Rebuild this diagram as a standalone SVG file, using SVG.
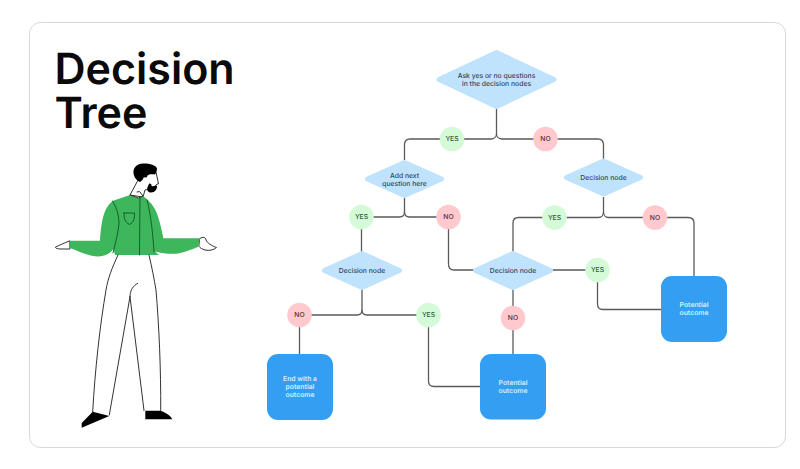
<svg xmlns="http://www.w3.org/2000/svg" width="800" height="469" viewBox="0 0 800 469">
<style>
text{text-rendering:geometricPrecision}
.title{font:600 43px "Inter","Liberation Sans",sans-serif;fill:#0a0a0a}
.t{font:500 6.8px "Inter","Liberation Sans",sans-serif;fill:#34445a;text-anchor:middle}
.w{font:600 6.8px "Inter","Liberation Sans",sans-serif;fill:#d8eefc;text-anchor:middle}
.c{font:500 6.8px "Inter","Liberation Sans",sans-serif;text-anchor:middle}
.dia{fill:#bfe3fd;stroke:#bfe3fd;stroke-width:5;stroke-linejoin:round}
.box{fill:#339ef2}
.yes{fill:#d4fad8}.no{fill:#ffc9ce}
.yt{fill:#2c5a3a}.nt{fill:#5a2f35}
.link{fill:none;stroke:#5a5a5a;stroke-width:1.3}
.ol{fill:none;stroke:#333;stroke-width:1;stroke-linecap:round;stroke-linejoin:round}
.seam{fill:none;stroke:#14542a;stroke-width:.9;stroke-linecap:round}
</style>
<rect width="800" height="469" fill="#fff"/>
<rect x="29.500" y="22.500" width="756" height="425" rx="11" fill="#fff" stroke="#d5d9dd" stroke-width="1"/>
<text class="title"><tspan x="54.500" y="84">Decision</tspan><tspan x="54.500" y="128">Tree</tspan></text>

<g id="person">
<!-- hands -->
<path class="ol" style="fill:#fff" d="M69.500 241C64 243 60 245 55.500 247C55 248.500 58 249 62 249L69.500 249ZM200 238.500C203 236.500 205.500 237 206 240C207 243 212 246 216.500 247.500C214 250 209 251 205 250C202 249 200 248 199 246.500Z"/>
<!-- head and neck -->
<path class="ol" style="fill:#fff" d="M137 182L130 195L143 197L145 190C150 189 155 187 157 184L158.500 184L156 172L143 168Z"/>
<path fill="#000" d="M133.500 171C134 166 139 163 144 163.500C150 163.500 156 165 157 168.500C157 171 156 173 155 174.500C152 174 149 174 147.500 175.500C147 178 145 178 144 177C143 179 142 181 140 182C136 180 133 176 133.500 171Z"/>
<path fill="#000" d="M148 186C146 190 148 192.500 151 192.500C155 192.500 157.500 189 157 185.500C155 186 153 186.500 151.500 186C152 184 150 183 149 184Z"/>
<!-- shirt -->
<path fill="#3db65c" d="M130 195L113 200.700C107 205 104 212 102 222C101 228 100 235 100 240.700L70 240.700L70 248C78 251 88 256 98 256.500C104 256.500 110 254 113.500 249L115 255L159 255L155 251.500C165 254 176 255 184 252C190 250 196 248 198 246.700L200 238.300L163.300 238.300C162 231 160 223 158 216.500C155 207 150 201 143 196L138 198Z"/>
<path class="ol" d="M130 195L138.500 198L143 196L139.500 191.500L137 192"/>
<path class="seam" d="M112.500 201C117 208 119 216 119 224C118 233 115 245 113 253M140 197L139.500 255M147 200C151 215 153 235 154 252M124 213L134.500 213C134.500 219 134 222 129.500 224.500C125 222 124 219 124 213Z"/>
<!-- trousers -->
<path class="ol" d="M118 255C112 268 108 278 106 290C100 325 95 370 92.700 411.700M130 296.700L109.300 415M130 296.700L144 410.500M149 255C152 268 154 278 156 290C159 325 161 370 160.700 410.500M130 296.700C130 290 133 286 137.700 283.300"/>
<!-- shoes -->
<path fill="#000" d="M92.700 411.700L109.300 416L81.700 427.700L81.700 423Z"/>
<path fill="#000" d="M145.300 410.700L160 410.700C165 412 170 415 172.300 419.300L145.300 419.300Z"/>
</g>

<g id="connectors" class="link">
<path d="M496.500 109V134C496.500 137 494 139 491 139H410C406.500 139 404.500 141 404.500 145V160"/>
<path d="M496.500 134C496.500 137 499 139 502 139H598C601.500 139 603.500 141 603.500 145V159"/>
<path d="M404.500 198V212C404.500 215 402.500 217 399.500 217H366C363 217 361.500 219 361.500 222V252"/>
<path d="M404.500 212C404.500 215 406.500 217 409.500 217H448.500V264C448.500 268 450.500 270 454 270H474"/>
<path d="M603.500 197V212C603.500 215 601.500 217.500 598.500 217.500H518.500C515 217.500 513 219.500 513 223V252"/>
<path d="M603.500 212C603.500 215 605.500 217.500 608.500 217.500H688C692 217.500 694 219.500 694 223V277"/>
<path d="M552 270H597.500V304C597.500 307.500 599.500 309.500 603 309.500H662"/>
<path d="M362 289V310C362 313 360 315 357 315H299.500V355"/>
<path d="M362 310C362 313 364 315 367 315H428.500V381C428.500 384.500 430.500 386.500 434 386.500H481"/>
<path d="M513 289V355"/>
</g>

<g id="q-root"><path class="dia" d="M496.500 52.500L554 79.500L496.500 106.500L439 79.500Z"/><text class="t" x="496.500" y="78">Ask yes or no questions</text><text class="t" x="496.500" y="86">in the decision nodes</text></g>
<g id="q-add"><path class="dia" d="M404.500 162.500L441.500 179L404.500 195.500L367.500 179Z"/><text class="t" x="404.500" y="177.500">Add next</text><text class="t" x="404.500" y="185.500">question here</text></g>
<g id="q-right"><path class="dia" d="M603.500 161L640.500 177.500L603.500 194L566.500 177.500Z"/><text class="t" x="603.500" y="180">Decision node</text></g>
<g id="q-left"><path class="dia" d="M362 253.500L399.500 270.500L362 287.500L324.500 270.500Z"/><text class="t" x="362" y="272.800">Decision node</text></g>
<g id="q-mid"><path class="dia" d="M513 253.500L550.500 270.500L513 287.500L475.500 270.500Z"/><text class="t" x="513" y="272.800">Decision node</text></g>

<g id="a1"><circle class="yes" cx="452" cy="139" r="12.300"/><text class="c yt" x="452" y="141.400">YES</text></g>
<g id="a2"><circle class="no" cx="545.500" cy="139" r="12.300"/><text class="c nt" x="545.500" y="141.400">NO</text></g>
<g id="a3"><circle class="yes" cx="361.500" cy="217" r="12.300"/><text class="c yt" x="361.500" y="219.400">YES</text></g>
<g id="a4"><circle class="no" cx="448.500" cy="217" r="12.300"/><text class="c nt" x="448.500" y="219.400">NO</text></g>
<g id="a5"><circle class="yes" cx="554.500" cy="217.500" r="12.300"/><text class="c yt" x="554.500" y="219.900">YES</text></g>
<g id="a6"><circle class="no" cx="655" cy="217.500" r="12.300"/><text class="c nt" x="655" y="219.900">NO</text></g>
<g id="a7"><circle class="yes" cx="597.500" cy="270" r="12.300"/><text class="c yt" x="597.500" y="272.400">YES</text></g>
<g id="a8"><circle class="no" cx="299.500" cy="315" r="12.300"/><text class="c nt" x="299.500" y="317.400">NO</text></g>
<g id="a9"><circle class="yes" cx="428.500" cy="315" r="12.300"/><text class="c yt" x="428.500" y="317.400">YES</text></g>
<g id="a10"><circle class="no" cx="513" cy="318" r="12.300"/><text class="c nt" x="513" y="320.400">NO</text></g>

<g id="end-1"><rect class="box" x="267" y="354" width="66" height="66" rx="11"/><text class="w" x="300" y="381">End with a</text><text class="w" x="300" y="389">potential</text><text class="w" x="300" y="397">outcome</text></g>
<g id="end-2"><rect class="box" x="480" y="354" width="66" height="65.500" rx="11"/><text class="w" x="513" y="384.500">Potential</text><text class="w" x="513" y="392.500">outcome</text></g>
<g id="end-3"><rect class="box" x="661" y="276" width="66" height="66" rx="11"/><text class="w" x="694" y="307">Potential</text><text class="w" x="694" y="315">outcome</text></g>
</svg>
